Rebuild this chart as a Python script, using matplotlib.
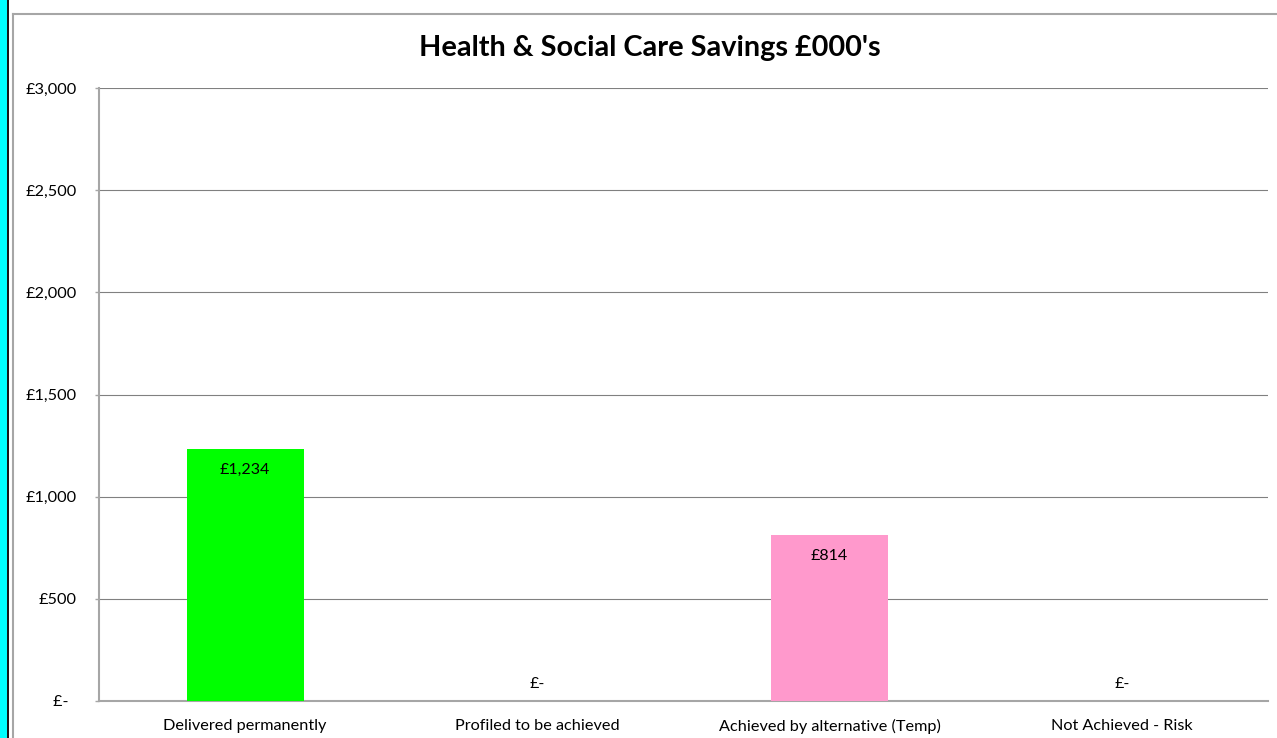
import matplotlib
matplotlib.use("Agg")
import matplotlib.pyplot as plt
from matplotlib.patches import Rectangle
from matplotlib.lines import Line2D
from matplotlib.ticker import FuncFormatter

categories = ["Delivered permanently", "Profiled to be achieved",
              "Achieved by alternative (Temp)", "Not Achieved - Risk"]
values = [1234, 0, 814, 0]
colors = ["#00FF00", "#FF0000", "#FF99CC", "#C00000"]
title = "Health & Social Care Savings £000's"

plt.rcParams['font.family'] = ['Lato', 'DejaVu Sans']

W, H = 1277, 738
fig = plt.figure(figsize=(W / 100, H / 100), dpi=100)
fig.patch.set_facecolor("white")

# left cyan strip and black line
fig.add_artist(Rectangle((0, 0), 6.5 / W, 1, transform=fig.transFigure,
                         facecolor="#00FFFF", edgecolor="none"))
fig.add_artist(Line2D([7.5 / W, 7.5 / W], [0, 1], transform=fig.transFigure,
                      color="black", linewidth=1.3))
# chart area border
fig.add_artist(Line2D([12.5 / W, 12.5 / W], [0, 1 - 13.5 / H], transform=fig.transFigure,
                      color="#A6A6A6", linewidth=1.5))
fig.add_artist(Line2D([12.5 / W, 1], [1 - 13.5 / H, 1 - 13.5 / H], transform=fig.transFigure,
                      color="#A6A6A6", linewidth=1.5))

left, right, top, bottom = 99, 1268, 88, 701
ax = fig.add_axes([left / W, 1 - bottom / H, (right - left) / W, (bottom - top) / H])

x = range(len(categories))
ax.bar(x, values, width=0.4, color=colors, zorder=3)
ax.set_xlim(-0.5, len(categories) - 0.5)
ax.set_ylim(0, 3000)
ax.set_yticks(range(0, 3001, 500))


def fmt(v, pos=None):
    return "£-" if v == 0 else "£{:,.0f}".format(v)


def tickfmt(v, pos=None):
    return "£-  " if v == 0 else "£{:,.0f}".format(v)


ax.yaxis.set_major_formatter(FuncFormatter(tickfmt))
ax.set_xticks(list(x))
ax.set_xticklabels(categories, fontsize=11.7)
ax.tick_params(axis="y", labelsize=11.7, length=3, width=1, color="#A6A6A6", pad=13)
ax.tick_params(axis="x", length=0, pad=13)
ax.yaxis.grid(True, color="#808080", linewidth=0.8, zorder=0)
for s in ["top", "right"]:
    ax.spines[s].set_visible(False)
ax.spines["left"].set_color("#A6A6A6")
ax.spines["left"].set_linewidth(1.5)
ax.spines["bottom"].set_color("#A6A6A6")
ax.spines["bottom"].set_linewidth(1.5)

for i, v in enumerate(values):
    if v > 0:
        ax.annotate(fmt(v), (i, v), xytext=(0, -15.5), textcoords="offset points",
                    ha="center", va="center", fontsize=11.5, zorder=4)
    else:
        ax.annotate(fmt(v), (i, v), xytext=(0, 12.5), textcoords="offset points",
                    ha="center", va="center", fontsize=11.5, zorder=4)

fig.text(650 / W, 1 - 48 / H, title, ha="center", va="center",
         fontsize=20.8, fontweight="bold")

fig.savefig("out.png", dpi=100)
